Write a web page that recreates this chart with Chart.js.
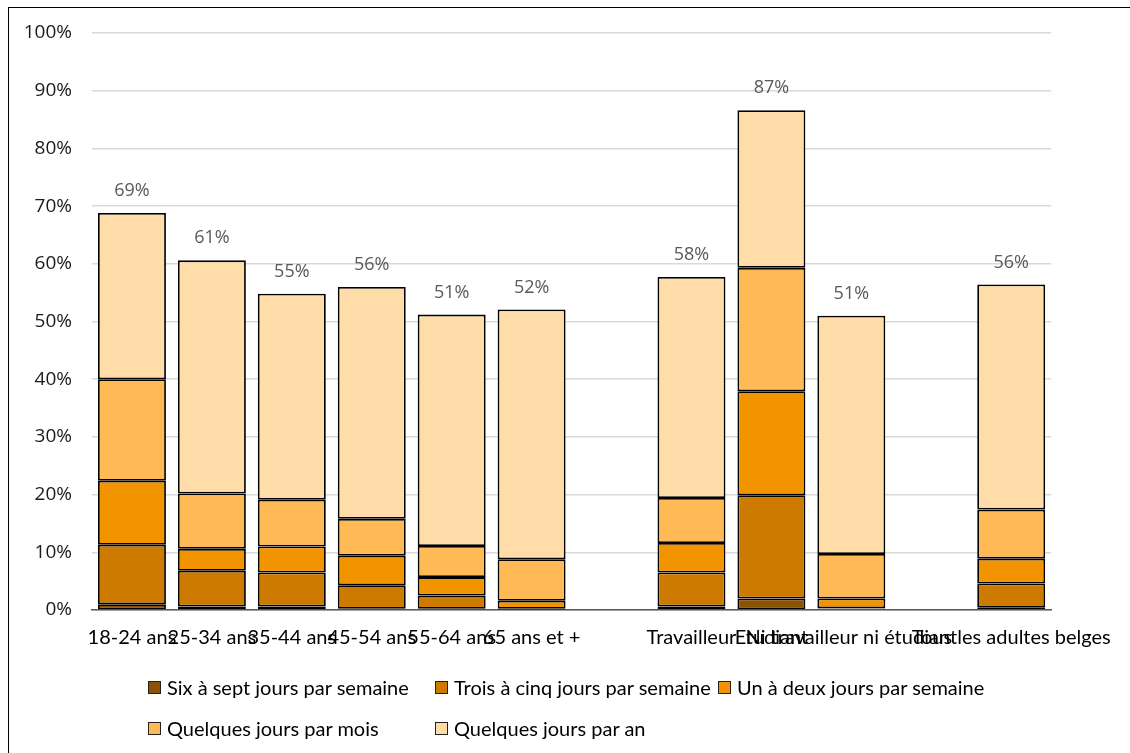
<!DOCTYPE html>
<html>
<head>
<meta charset="utf-8">
<script src="https://cdn.jsdelivr.net/npm/chart.js@4.4.1/dist/chart.umd.min.js"></script>
<style>
  body { margin: 0; background: #fff; }
  #wrap { position: relative; width: 1130px; height: 753px; overflow: hidden; }
  #frame { position: absolute; left: 8px; top: 7px; width: 1200px; height: 800px; border: 1.5px solid #000; box-sizing: border-box; }
  #chart { position: absolute; left: 0; top: 0; }
  #legend { position: absolute; left: 148px; top: 675px; display: grid; grid-template-columns: 287px 283px 300px; row-gap: 17px; font-family: Lato, sans-serif; font-size: 20px; color: #000; }
  .item { display: flex; align-items: center; height: 24px; white-space: nowrap; }
  .box { width: 11px; height: 11px; border: 1px solid #222; margin-right: 6px; flex: none; }
</style>
</head>
<body>
<div id="wrap">
  <div id="frame"></div>
  <canvas id="chart" width="1130" height="753"></canvas>
  <div id="legend"></div>
</div>
<script>
// categories (empty strings are the gaps between groups)
const categories = ['18-24 ans', '25-34 ans', '35-44 ans', '45-54 ans', '55-64 ans', '65 ans et +', '',
  'Travailleur', 'Etudiant', 'Ni travailleur ni étudiant', '', 'Tous les adultes belges'];

// shares in %
const sixSept    = [1.0, 0.6, 0.6, 0.2, 0.2, 0.1, null, 0.6, 2.0, 0.2, null, 0.4];
const troisCinq  = [10.3, 6.2, 5.9, 4.1, 2.3, 0.1, null, 5.9, 17.9, 0.1, null, 4.2];
const unDeux     = [11.1, 3.8, 4.5, 5.1, 3.2, 1.4, null, 5.1, 18.0, 1.7, null, 4.3];
const parMois    = [17.6, 9.6, 8.1, 6.4, 5.4, 7.2, null, 7.8, 21.4, 7.7, null, 8.5];
const parAn      = [28.8, 40.4, 35.7, 40.2, 40.1, 43.3, null, 38.3, 27.3, 41.3, null, 39.0];

// total labels above the bars
const totalLabels = ['69%', '61%', '55%', '56%', '51%', '52%', null, '58%', '87%', '51%', null, '56%'];

const yTicks = [0, 10, 20, 30, 40, 50, 60, 70, 80, 90, 100];

const seriesNames = ['Six à sept jours par semaine', 'Trois à cinq jours par semaine', 'Un à deux jours par semaine',
  'Quelques jours par mois', 'Quelques jours par an'];
const seriesColors = ['#8c5203', '#cc7a00', '#f29400', '#ffba55', '#ffdca8'];
const seriesData = [sixSept, troisCinq, unDeux, parMois, parAn];

const datasets = seriesData.map((d, i) => ({
  label: seriesNames[i],
  data: d,
  backgroundColor: seriesColors[i],
  borderColor: '#000',
  borderWidth: 1.8,
  borderSkipped: false,
  barPercentage: 0.85,
  categoryPercentage: 1
}));

// draw totals above each stack
const totalsPlugin = {
  id: 'totals',
  afterDatasetsDraw(chart) {
    const ctx = chart.ctx;
    const yScale = chart.scales.y;
    const lastMeta = chart.getDatasetMeta(chart.data.datasets.length - 1);
    ctx.save();
    ctx.font = '18px "Open Sans"';
    ctx.fillStyle = '#595959';
    ctx.textAlign = 'center';
    ctx.textBaseline = 'middle';
    totalLabels.forEach((t, i) => {
      if (!t) return;
      let sum = 0;
      chart.data.datasets.forEach(ds => { sum += ds.data[i] || 0; });
      const x = lastMeta.data[i].x;
      const y = yScale.getPixelForValue(sum) - 22;
      ctx.fillText(t, x, y);
    });
    ctx.restore();
  }
};

const chart = new Chart(document.getElementById('chart').getContext('2d'), {
  type: 'bar',
  data: { labels: categories, datasets },
  options: {
    responsive: false,
    animation: false,
    layout: { padding: { left: 10, right: 78, top: 33, bottom: 103 } },
    plugins: { legend: { display: false }, tooltip: { enabled: false } },
    scales: {
      x: {
        stacked: true,
        grid: { display: false, drawTicks: false },
        border: { display: true, color: '#595959', width: 1.5 },
        ticks: { autoSkip: false, maxRotation: 0, minRotation: 0, padding: 16, color: '#000', font: { family: 'Lato', size: 20 } },
        afterFit(scale) { scale.height = 40; }
      },
      y: {
        stacked: true,
        min: 0,
        max: 100,
        afterBuildTicks(scale) { scale.ticks = yTicks.map(v => ({ value: v })); },
        grid: { color: '#d9d9d9', lineWidth: 1.5, drawTicks: false },
        border: { display: false },
        ticks: { padding: 20, color: '#1a1a1a', font: { family: 'Open Sans', size: 19 }, callback: v => v + '%' },
        afterFit(scale) { scale.width = 82; }
      }
    }
  },
  plugins: [totalsPlugin]
});

// legend laid out like the original (three columns, two rows)
const legend = document.getElementById('legend');
chart.data.datasets.forEach(ds => {
  const item = document.createElement('div');
  item.className = 'item';
  item.innerHTML = `<span class="box" style="background:${ds.backgroundColor}"></span>${ds.label}`;
  legend.appendChild(item);
});
</script>
</body>
</html>
